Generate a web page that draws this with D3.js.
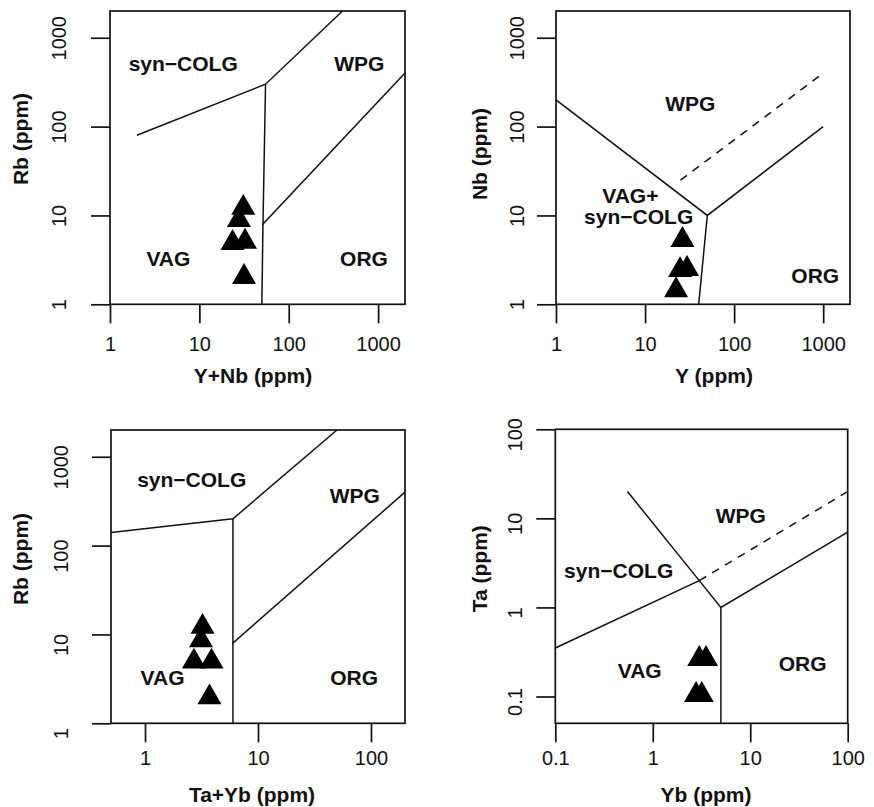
<!DOCTYPE html>
<html><head><meta charset="utf-8">
<script src="https://cdn.jsdelivr.net/npm/d3@7"></script>
<style>
html,body{margin:0;padding:0;background:#fff;}
text{font-family:"Liberation Sans",Arial,Helvetica,sans-serif;fill:#111;}
</style></head>
<body>
<script>
// ---------- data ----------
// Panel A: Rb vs Y+Nb
const aSampleX = [31.0, 27.7, 23.5, 32.4, 31.6];
const aSampleY = [12.2, 8.9, 4.9, 5.06, 2.03];
const aBounds = [[[2,80],[55,300],[400,2000]], [[55,300],[51.5,8],[2000,400]], [[51.5,8],[50,1]]];
const aDashed = [];
const aFields = ["syn\u2212COLG","WPG","VAG","ORG"];
const aFieldX = [6.6, 616, 4.5, 695];
const aFieldY = [514, 514, 3.29, 3.29];

// Panel B: Nb vs Y
const bSampleX = [26.3, 24.7, 29.6, 22.3];
const bSampleY = [5.3, 2.43, 2.5, 1.44];
const bBounds = [[[1,200],[50,10],[1000,100]], [[50,10],[40,1]]];
const bDashed = [[[25,25],[1000,400]]];
const bFields = ["WPG","VAG+","syn\u2212COLG","ORG"];
const bFieldX = [32.2, 6.83, 8.48, 815];
const bFieldY = [182, 16.96, 9.67, 2.14];

// Panel C: Rb vs Ta+Yb
const cSampleX = [3.23, 3.13, 2.71, 3.88, 3.72];
const cSampleY = [12.2, 8.6, 4.96, 4.96, 1.96];
const cBounds = [[[0.5,140],[6,200],[50,2000]], [[6,200],[6,8],[200,400]], [[6,8],[6,1]]];
const cDashed = [];
const cFields = ["syn\u2212COLG","WPG","VAG","ORG"];
const cFieldX = [2.59, 72, 1.43, 71];
const cFieldY = [562, 365, 3.3, 3.3];

// Panel D: Ta vs Yb
const dSampleX = [3.0, 3.52, 2.78, 3.18];
const dSampleY = [0.264, 0.264, 0.104, 0.104];
const dBounds = [[[0.55,20],[3,2],[5,1],[100,7]], [[0.1,0.35],[3,2]], [[5,0.05],[5,1]]];
const dDashed = [[[3,2],[100,20]]];
const dFields = ["WPG","syn\u2212COLG","VAG","ORG"];
const dFieldX = [8.0, 0.447, 0.735, 34.5];
const dFieldY = [10.7, 2.63, 0.198, 0.236];

const ticks1to1000 = [1, 10, 100, 1000];
const ticksLabels1to1000 = ["1","10","100","1000"];
const ticksTaYb = [1, 10, 100];
const ticksTaYbLabels = ["1","10","100"];
const ticksDec = [0.1, 1, 10, 100];
const ticksDecLabels = ["0.1","1","10","100"];

// ---------- layout ----------
const panels = [
  {box:[110,405,11,304.3], xd:[1,2000], yd:[1,2000], xt:ticks1to1000, xtl:ticksLabels1to1000,
   yt:ticks1to1000, ytl:ticksLabels1to1000, yLabDist:51.5, yLabShift:0, xLabBase:47,
   xTitle:"Y+Nb (ppm)", xTitleX:253, yTitle:"Rb (ppm)", yTitleX:28, yTitleY:139,
   sx:aSampleX, sy:aSampleY, bounds:aBounds, dashed:aDashed, f:aFields, fx:aFieldX, fy:aFieldY},
  {box:[556,850,11,304.3], xd:[1,2000], yd:[1,2000], xt:ticks1to1000, xtl:ticksLabels1to1000,
   yt:ticks1to1000, ytl:ticksLabels1to1000, yLabDist:39.5, yLabShift:0, xLabBase:47,
   xTitle:"Y (ppm)", xTitleX:714, yTitle:"Nb (ppm)", yTitleX:487.3, yTitleY:154,
   sx:bSampleX, sy:bSampleY, bounds:bBounds, dashed:bDashed, f:bFields, fx:bFieldX, fy:bFieldY},
  {box:[111,405,430,723.3], xd:[0.5,200], yd:[1,2000], xt:ticksTaYb, xtl:ticksTaYbLabels,
   yt:ticks1to1000, ytl:ticksLabels1to1000, yLabDist:50.5, yLabShift:10, xLabBase:41.5,
   xTitle:"Ta+Yb (ppm)", xTitleX:252, yTitle:"Rb (ppm)", yTitleX:28, yTitleY:559,
   sx:cSampleX, sy:cSampleY, bounds:cBounds, dashed:cDashed, f:cFields, fx:cFieldX, fy:cFieldY},
  {box:[555.3,847.7,429.3,723.3], xd:[0.1,100], yd:[0.05,100], xt:ticksDec, xtl:ticksDecLabels,
   yt:ticksDec, ytl:ticksDecLabels, yLabDist:41, yLabShift:5, xLabBase:41.5,
   xTitle:"Yb (ppm)", xTitleX:706, yTitle:"Ta (ppm)", yTitleX:487.3, yTitleY:568.7,
   sx:dSampleX, sy:dSampleY, bounds:dBounds, dashed:dDashed, f:dFields, fx:dFieldX, fy:dFieldY}
];

const svg = d3.select("body").append("svg").attr("width",874).attr("height",807)
  .style("display","block");
svg.append("rect").attr("width",874).attr("height",807).attr("fill","#fff");

const TICK = 19, LW = 1.7;
const tri = d3.symbol().type(d3.symbolTriangle).size(250);

panels.forEach(p => {
  const [x0,x1,y0,y1] = p.box;
  const x = d3.scaleLog().domain(p.xd).range([x0,x1]);
  const y = d3.scaleLog().domain(p.yd).range([y1,y0]);
  const g = svg.append("g");

  // x axis
  const xa = g.append("g").attr("transform",`translate(0,${y1})`)
    .call(d3.axisBottom(x).tickValues(p.xt).tickSize(TICK).tickSizeOuter(0)
      .tickFormat((d,i)=>p.xtl[i]));
  xa.select(".domain").remove();
  xa.selectAll("line").attr("stroke","#111").attr("stroke-width",LW);
  xa.selectAll("text").attr("y",p.xLabBase).attr("dy",null)
    .style("font-size","20px").attr("fill","#111");

  // y axis
  const ya = g.append("g").attr("transform",`translate(${x0},0)`)
    .call(d3.axisLeft(y).tickValues(p.yt).tickSize(TICK).tickSizeOuter(0)
      .tickFormat((d,i)=>p.ytl[i]));
  ya.select(".domain").remove();
  ya.selectAll("line").attr("stroke","#111").attr("stroke-width",LW);
  ya.selectAll("text")
    .attr("transform","rotate(-90)")
    .attr("x",-p.yLabShift).attr("y",-p.yLabDist).attr("dy","0.36em")
    .attr("text-anchor","middle")
    .style("font-size","20px").attr("fill","#111");

  // box
  g.append("rect").attr("x",x0).attr("y",y0).attr("width",x1-x0).attr("height",y1-y0)
    .attr("fill","none").attr("stroke","#111").attr("stroke-width",LW);

  // boundaries
  const line = d3.line().x(d=>x(d[0])).y(d=>y(d[1]));
  g.selectAll(null).data(p.bounds).enter().append("path")
    .attr("d",line).attr("fill","none").attr("stroke","#111").attr("stroke-width",1.5);
  g.selectAll(null).data(p.dashed).enter().append("path")
    .attr("d",line).attr("fill","none").attr("stroke","#111").attr("stroke-width",1.5)
    .attr("stroke-dasharray","8,7");

  // field labels
  g.selectAll(null).data(p.f).enter().append("text")
    .attr("x",(d,i)=>x(p.fx[i])).attr("y",(d,i)=>y(p.fy[i])).attr("dy","0.36em")
    .attr("text-anchor","middle").style("font-size","21px").style("font-weight","bold")
    .text(d=>d);

  // samples
  g.selectAll(null).data(p.sx).enter().append("path")
    .attr("d",tri).attr("fill","#000")
    .attr("transform",(d,i)=>`translate(${x(d)},${y(p.sy[i])})`);

  // titles
  g.append("text").attr("x",p.xTitleX).attr("y",y1+78.4).attr("text-anchor","middle")
    .style("font-size","21px").style("font-weight","bold").text(p.xTitle);
  g.append("text").attr("transform",`translate(${p.yTitleX},${p.yTitleY}) rotate(-90)`)
    .attr("text-anchor","middle")
    .style("font-size","21px").style("font-weight","bold").text(p.yTitle);
});
</script>
</body></html>
